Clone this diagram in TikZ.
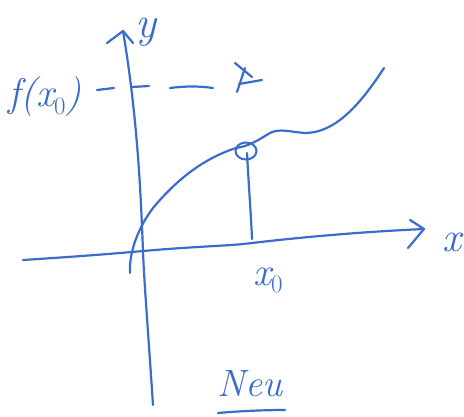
\documentclass[tikz,border=0pt]{standalone}
\usetikzlibrary{calc,shapes.geometric}
\definecolor{pen}{RGB}{58,108,206}
\begin{document}
\begin{tikzpicture}[x=1pt,y=-1pt,
  stroke/.style={draw=pen,line width=2.2pt,line cap=round,line join=round},
  lbl/.style={text=pen,inner sep=0pt}]
\useasboundingbox (0,0) rectangle (464,416);
% y axis
\coordinate (ybot) at (153,405);
\coordinate (ytop) at (123,31);
\coordinate (o) at (143,251);
\draw[stroke] (ybot) .. controls (148,330) and (144,280) .. (o)
  .. controls (141,200) and (138,120) .. (ytop);
\coordinate (yl) at (107,43);
\coordinate (yr) at (133,43);
\draw[stroke] (yl) -- (ytop) -- (yr);
\node[lbl,font=\fontsize{44}{44}\selectfont\itshape] (ylab) at (146,32) {y};
% x axis
\coordinate (xl) at (23,260);
\coordinate (xtip) at (424,229);
\draw[stroke] (xl) .. controls (70,257) and (110,254) .. (o)
  .. controls (200,246) and (230,246) .. (252,243)
  .. controls (320,235) and (380,231) .. (xtip);
\coordinate (xu) at (410,220);
\coordinate (xd) at (408,248);
\draw[stroke] (xu) -- (xtip) -- (xd);
\node[lbl,font=\fontsize{42}{42}\selectfont\itshape] (xlab) at (452,242) {x};
% curve
\coordinate (cs) at (130,273);
\coordinate (ce) at (384,68);
\draw[stroke] (cs) .. controls (129,252) and (138,228) .. (153,208)
  .. controls (178,178) and (205,158) .. (236,148)
  .. controls (250,146) and (258,140) .. (270,133)
  .. controls (280,128) and (290,132) .. (305,133)
  .. controls (335,133) and (360,105) .. (ce);
% small circle at point
\node[draw=pen,line width=2pt,ellipse,minimum width=21pt,minimum height=17pt,inner sep=0pt] (pt) at (246,151) {};
% vertical drop
\coordinate (vb) at (252,239);
\draw[stroke] (247,153) .. controls (249,190) and (251,215) .. (vb);
\node[lbl,font=\fontsize{40}{40}\selectfont\itshape] (x0) at (268,280) {x$_0$};
% f(x0) and dashed line
\node[lbl,font=\fontsize{40}{40}\selectfont\itshape] (fx) at (45,97) {f(x$_0$)};
\draw[stroke] (97,90) -- (114,88);
\draw[stroke] (132,87) -- (149,86);
\draw[stroke] (170,88) .. controls (185,86) and (200,86) .. (213,88);
% cross mark
\draw[stroke] (235,63) -- (252,77);
\draw[stroke] (245,68) -- (237,92);
\draw[stroke] (239,84) -- (262,80);
% Neu
\node[lbl,font=\fontsize{38}{38}\selectfont\itshape] (neu) at (250,384) {Neu};
\draw[stroke] (218,413) .. controls (240,411) and (265,410) .. (285,410);
\end{tikzpicture}
\end{document}
